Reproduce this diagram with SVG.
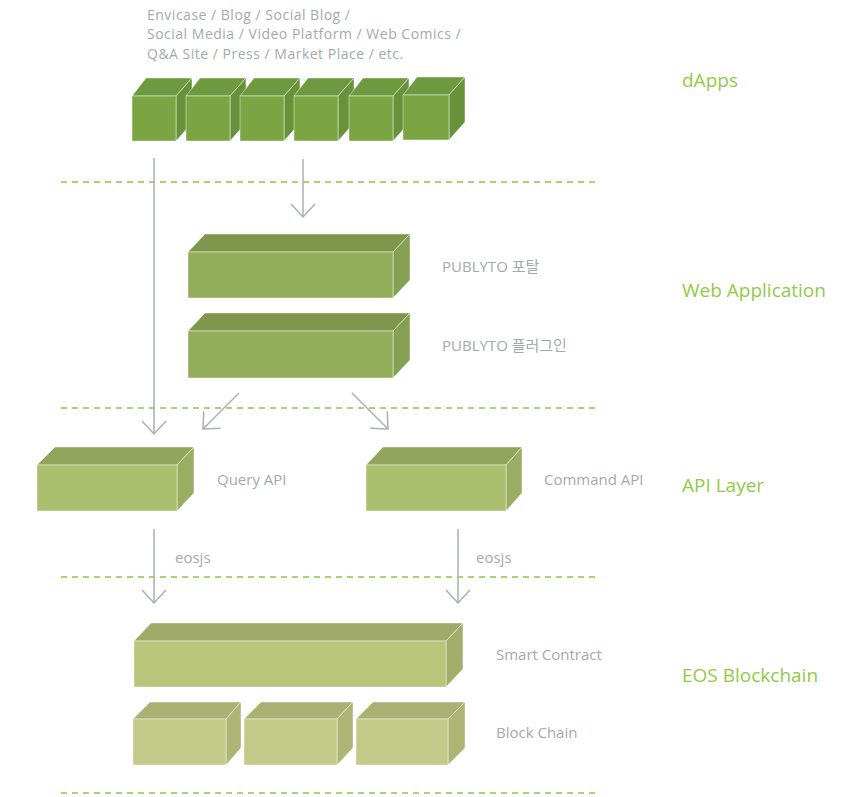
<svg xmlns="http://www.w3.org/2000/svg" width="860" height="797" viewBox="0 0 860 797">
<style>
.lbl{font-family:"Open Sans","Noto Sans CJK KR",sans-serif;font-size:15px;fill:#a3aaac}
.top{font-family:"Open Sans","Noto Sans",sans-serif;font-size:14px;letter-spacing:0.5px;fill:#a3aaac}
.layer{font-family:"Open Sans","Noto Sans",sans-serif;font-size:19px;fill:#8fcc45}
.dash{stroke:#a8d66e;stroke-width:2;stroke-dasharray:6 5;fill:none}
.conn{stroke:#a9b0b3;stroke-width:1.5;fill:none}
.edge{stroke:#ffffff;stroke-opacity:0.45;stroke-width:1}
.d .f{fill:#7ba443}.d .t{fill:#6d9a3e}.d .s{fill:#67923a}
.w .f{fill:#92ae5a}.w .t{fill:#7f964d}.w .s{fill:#86a052}
.a .f{fill:#abbf6e}.a .t{fill:#93a45c}.a .s{fill:#9aad62}
.sc .f{fill:#b8c57b}.sc .t{fill:#9faa68}.sc .s{fill:#a4ae6b}
.bc .f{fill:#c3ca89}.bc .t{fill:#a9b272}.bc .s{fill:#acb574}
</style>
<defs>
<marker id="arr" markerUnits="userSpaceOnUse" viewBox="-16 -16 32 32" markerWidth="32" markerHeight="32" refX="0" refY="0" orient="auto">
<path d="M-13,-12 L0,0 L-13,12" fill="none" stroke="#a9b0b3" stroke-width="1.5"/>
</marker>
</defs>
<rect width="860" height="797" fill="#ffffff"/>

<g id="separators">
<line class="dash" x1="61" y1="182" x2="597" y2="182"/>
<line class="dash" x1="61" y1="408" x2="597" y2="408"/>
<line class="dash" x1="61" y1="577" x2="597" y2="577"/>
<line class="dash" x1="61" y1="793" x2="597" y2="793"/>
</g>

<g id="layer-labels">
<text class="layer" x="682" y="87">dApps</text>
<text class="layer" x="682" y="297">Web Application</text>
<text class="layer" x="682" y="492">API Layer</text>
<text class="layer" x="682" y="682">EOS Blockchain</text>
</g>

<g id="dapps-text">
<text class="top" x="147" y="19.5">Envicase / Blog / Social Blog /</text>
<text class="top" x="147" y="39">Social Media / Video Platform / Web Comics /</text>
<text class="top" x="147" y="58.5">Q&amp;A Site / Press / Market Place / etc.</text>
</g>

<g id="dapps" class="d">
<g><polygon class="t edge" points="132,96 146,78 192,78 176,96"/><polygon class="s edge" points="176,96 192,78 192,123 176,141"/><rect class="f edge" x="132" y="96" width="44" height="45"/></g>
<g><polygon class="t edge" points="186,96 200,78 246,78 230,96"/><polygon class="s edge" points="230,96 246,78 246,123 230,141"/><rect class="f edge" x="186" y="96" width="44" height="45"/></g>
<g><polygon class="t edge" points="240,96 254,78 300,78 284,96"/><polygon class="s edge" points="284,96 300,78 300,123 284,141"/><rect class="f edge" x="240" y="96" width="44" height="45"/></g>
<g><polygon class="t edge" points="294,96 308,78 354,78 338,96"/><polygon class="s edge" points="338,96 354,78 354,123 338,141"/><rect class="f edge" x="294" y="96" width="44" height="45"/></g>
<g><polygon class="t edge" points="349,96 363,78 409,78 393,96"/><polygon class="s edge" points="393,96 409,78 409,123 393,141"/><rect class="f edge" x="349" y="96" width="44" height="45"/></g>
<g><polygon class="t edge" points="403,95 417,77 465,77 449,95"/><polygon class="s edge" points="449,95 465,77 465,122 449,140"/><rect class="f edge" x="403" y="95" width="46" height="45"/></g>
</g>

<g id="publyto-portal" class="w">
<polygon class="t edge" points="188,252 205,234 410,234 393,252"/>
<polygon class="s edge" points="393,252 410,234 410,280 393,298"/>
<rect class="f edge" x="188" y="252" width="205" height="46"/>
<text class="lbl" x="442" y="272">PUBLYTO 포탈</text>
</g>

<g id="publyto-plugin" class="w">
<polygon class="t edge" points="188,331 205,313 410,313 393,331"/>
<polygon class="s edge" points="393,331 410,313 410,360 393,378"/>
<rect class="f edge" x="188" y="331" width="205" height="47"/>
<text class="lbl" x="442" y="351">PUBLYTO 플러그인</text>
</g>

<g id="query-api" class="a">
<polygon class="t edge" points="37,465 55,447 194,447 177,465"/>
<polygon class="s edge" points="177,465 194,447 194,493 177,511"/>
<rect class="f edge" x="37" y="465" width="140" height="46"/>
<text class="lbl" x="217" y="485">Query API</text>
</g>

<g id="command-api" class="a">
<polygon class="t edge" points="366,465 383,447 522,447 506,465"/>
<polygon class="s edge" points="506,465 522,447 522,493 506,511"/>
<rect class="f edge" x="366" y="465" width="140" height="46"/>
<text class="lbl" x="544" y="485">Command API</text>
</g>

<g id="smart-contract" class="sc">
<polygon class="t edge" points="134,641 151,623 463,623 446,641"/>
<polygon class="s edge" points="446,641 463,623 463,669 446,687"/>
<rect class="f edge" x="134" y="641" width="312" height="46"/>
<text class="lbl" x="496" y="660">Smart Contract</text>
</g>

<g id="block-chain" class="bc">
<g><polygon class="t edge" points="133,719 150,702 241,702 226,719"/><polygon class="s edge" points="226,719 241,702 241,748 226,765"/><rect class="f edge" x="133" y="719" width="93" height="46"/></g>
<g><polygon class="t edge" points="244,719 261,702 353,702 337,719"/><polygon class="s edge" points="337,719 353,702 353,748 337,765"/><rect class="f edge" x="244" y="719" width="93" height="46"/></g>
<g><polygon class="t edge" points="356,719 373,702 465,702 448,719"/><polygon class="s edge" points="448,719 465,702 465,748 448,765"/><rect class="f edge" x="356" y="719" width="92" height="46"/></g>
<text class="lbl" x="496" y="738">Block Chain</text>
</g>

<g id="connectors">
<line class="conn" x1="154" y1="158" x2="154" y2="434" marker-end="url(#arr)"/>
<line class="conn" x1="303" y1="159" x2="303" y2="217" marker-end="url(#arr)"/>
<line class="conn" x1="239" y1="393" x2="203" y2="429" marker-end="url(#arr)"/>
<line class="conn" x1="352" y1="393" x2="388" y2="429" marker-end="url(#arr)"/>
<line class="conn" x1="154" y1="529" x2="154" y2="603" marker-end="url(#arr)"/>
<line class="conn" x1="458" y1="529" x2="458" y2="603" marker-end="url(#arr)"/>
<text class="lbl" x="175" y="563">eosjs</text>
<text class="lbl" x="476" y="563">eosjs</text>
</g>
</svg>
